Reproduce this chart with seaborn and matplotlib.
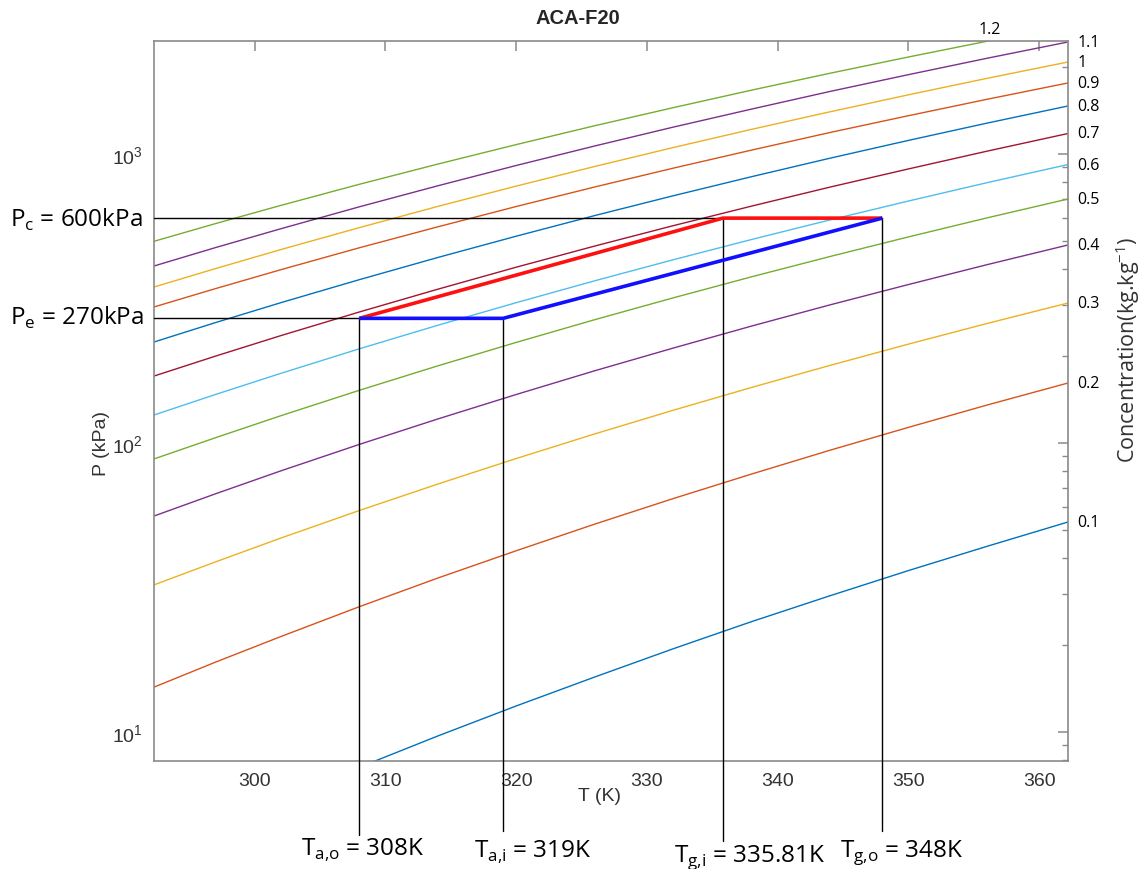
import numpy as np
import pandas as pd
import matplotlib
matplotlib.use("Agg")
import matplotlib.pyplot as plt
import seaborn as sns
from matplotlib.ticker import LogLocator, NullFormatter, FixedLocator

# Isostere data: equilibrium pressure (kPa) at each temperature (K) for every
# refrigerant concentration (kg/kg) of the ACA-F20 pair.
temps = [292.3, 297.0, 302.0, 308.0, 314.0, 320.0, 326.0, 332.0, 338.0, 344.0, 350.0, 356.0, 362.2]
concentrations = [0.1, 0.2, 0.3, 0.4, 0.5, 0.6, 0.7, 0.8, 0.9, 1.0, 1.1, 1.2]
p_c010 = [3.74, 4.65, 5.82, 7.55, 9.69, 12.31, 15.5, 19.41, 24.1, 29.62, 36.2, 43.9, 53.3]
p_c020 = [14.3, 17.45, 21.4, 27.14, 34.1, 42.39, 52.4, 64.22, 78.1, 94.43, 113.3, 135.3, 161.3]
p_c030 = [32.3, 38.78, 46.9, 58.4, 72.1, 88.39, 107.5, 129.8, 155.7, 185.6, 219.9, 259.1, 305.1]
p_c040 = [55.9, 66.72, 80.1, 98.89, 121.1, 147.2, 177.8, 213.0, 253.9, 300.6, 353.5, 414.0, 484.4]
p_c050 = [88.1, 104.3, 124.3, 152.2, 184.9, 222.9, 267.1, 317.8, 375.9, 441.9, 516.6, 601.0, 698.7]
p_c060 = [125.0, 147.2, 174.2, 211.8, 255.5, 305.9, 364.1, 430.5, 506.0, 591.5, 687.6, 795.6, 919.6]
p_c070 = [170.5, 199.8, 235.3, 284.0, 340.5, 405.8, 480.2, 564.8, 660.2, 768.2, 887.9, 1022.6, 1177.4]
p_c080 = [223.6, 261.0, 305.9, 367.4, 438.4, 519.5, 612.2, 716.8, 834.6, 967.1, 1114.5, 1278.6, 1466.0]
p_c090 = [295.6, 342.1, 397.8, 473.7, 559.7, 658.1, 768.8, 893.1, 1031.5, 1186.8, 1356.9, 1546.0, 1761.0]
p_c100 = [346.5, 401.3, 467.0, 556.2, 658.6, 774.3, 905.3, 1052.5, 1216.9, 1399.6, 1602.4, 1826.9, 2081.0]
p_c110 = [409.7, 474.4, 551.3, 656.5, 776.1, 912.5, 1065.8, 1238.4, 1430.1, 1646.0, 1881.6, 2143.7, 2441.0]
p_c120 = [498.8, 574.3, 663.9, 785.5, 922.7, 1077.7, 1252.4, 1446.1, 1663.2, 1902.7, 2166.0, 2454.7, 2781.0]
conc_labels = ["0.1", "0.2", "0.3", "0.4", "0.5", "0.6", "0.7", "0.8", "0.9", "1", "1.1", "1.2"]

# Cycle state points
t_ao, t_ai, t_gi, t_go = 308.0, 319.0, 335.81, 348.0
p_e, p_c = 270.0, 600.0

series = [p_c010, p_c020, p_c030, p_c040, p_c050, p_c060,
          p_c070, p_c080, p_c090, p_c100, p_c110, p_c120]

matlab_order = ["#0072BD", "#D95319", "#EDB120", "#7E2F8E", "#77AC30", "#4DBEEE", "#A2142F"]
palette = {c: matlab_order[i % 7] for i, c in enumerate(concentrations)}

rows = []
for c, pv in zip(concentrations, series):
    for t, p in zip(temps, pv):
        rows.append({"T": t, "P": p, "c": c})
df = pd.DataFrame(rows)

sns.set_theme(style="white")
plt.rcParams["font.family"] = ["Liberation Sans", "DejaVu Sans"]
plt.rcParams["mathtext.fontset"] = "custom"
plt.rcParams["mathtext.rm"] = "Liberation Sans"

W, H = 1146, 870
fig = plt.figure(figsize=(W / 100, H / 100), dpi=100)
fig.patch.set_facecolor("white")
ax_left, ax_right, ax_top, ax_bottom = 154, 1068, 41.7, 762
ax = fig.add_axes([ax_left / W, 1 - ax_bottom / H, (ax_right - ax_left) / W, (ax_bottom - ax_top) / H])

sns.lineplot(data=df, x="T", y="P", hue="c", palette=palette, legend=False,
             estimator=None, sort=False, linewidth=1.0, ax=ax)

ax.set_yscale("log")
xmin, xmax = 292.3, 362.2
ymin, ymax = 7.94, 2466.0
ax.set_xlim(xmin, xmax)
ax.set_ylim(ymin, ymax)
ax.set_xlabel("")
ax.set_ylabel("")

spine_col = "#8a8a8a"
for s in ax.spines.values():
    s.set_color(spine_col)
    s.set_linewidth(1.2)
ax.xaxis.set_major_locator(FixedLocator([300, 310, 320, 330, 340, 350, 360]))
ax.yaxis.set_major_locator(LogLocator(base=10))
ax.yaxis.set_minor_locator(LogLocator(base=10, subs=np.arange(2, 10)))
ax.yaxis.set_minor_formatter(NullFormatter())
ax.tick_params(which="both", direction="in", top=True, right=True,
               color=spine_col, labelcolor="#333333", labelsize=14)
ax.tick_params(which="major", length=7, width=1.1, pad=8)
ax.tick_params(which="minor", length=4, width=1.0)

# Pressure lines and temperature drop lines
def px_to_logp(py):
    frac = (ax_bottom - py) / (ax_bottom - ax_top)
    return 10 ** (np.log10(ymin) + frac * (np.log10(ymax) - np.log10(ymin)))

ax.plot([xmin, t_go], [p_c, p_c], color="black", lw=1.0, zorder=3)
ax.plot([xmin, t_ao], [p_e, p_e], color="black", lw=1.0, zorder=3)
for t, p, yb in [(t_ao, p_e, 836), (t_ai, p_e, 832), (t_gi, p_c, 842), (t_go, p_c, 832)]:
    ax.plot([t, t], [p, px_to_logp(yb)], color="black", lw=1.0, clip_on=False, zorder=3)

# Cycle path
ax.plot([t_ao, t_gi, t_go], [p_e, p_c, p_c], color="#ff1010", lw=2.6, zorder=4,
        solid_capstyle="butt")
ax.plot([t_ao, t_ai, t_go], [p_e, p_e, p_c], color="#1010ff", lw=2.6, zorder=4,
        solid_capstyle="butt")

# Concentration labels at the right end of each isostere
lab_font = ["Open Sans", "DejaVu Sans"]
for c, pv, lab in zip(concentrations, series, conc_labels):
    if pv[-1] <= ymax:
        ax.annotate(lab, xy=(xmax, pv[-1]), xytext=(7, 0), textcoords="offset points",
                    ha="left", va="center", fontsize=11.5, color="black",
                    family=lab_font, annotation_clip=False)
    else:
        lt = np.log10(pv)
        tx = np.interp(np.log10(ymax), lt, temps)
        ax.annotate(lab, xy=(tx, ymax), xytext=(0, 3), textcoords="offset points",
                    ha="center", va="bottom", fontsize=11.5, color="black",
                    family=lab_font, annotation_clip=False)

def ftext(x, y, s, **kw):
    fig.text(x / W, 1 - y / H, s, **kw)

ftext(578, 18, "ACA-F20", ha="center", va="center", fontsize=14.5, fontweight="bold", color="#262626")
ftext(600, 797, "T (K)", ha="center", va="center", fontsize=14, color="#333333")
ftext(102, 443, "P (kPa)", ha="center", va="center", fontsize=14, color="#333333", rotation=90)
ftext(1128, 350, r"Concentration(kg.kg$^{\mathregular{-1}}$)", ha="center", va="center",
      fontsize=15.5, color="#333333", rotation=90, family=lab_font)

ann = dict(fontsize=17.5, color="black", family=lab_font)
ftext(10, 227, r"P$_{\mathregular{c}}$ = 600kPa", ha="left", va="baseline", **ann)
ftext(10, 325, r"P$_{\mathregular{e}}$ = 270kPa", ha="left", va="baseline", **ann)
ftext(363, 856, r"T$_{\mathregular{a{,}o}}$ = 308K", ha="center", va="baseline", **ann)
ftext(533, 858, r"T$_{\mathregular{a{,}i}}$ = 319K", ha="center", va="baseline", **ann)
ftext(750, 862, r"T$_{\mathregular{g{,}i}}$ = 335.81K", ha="center", va="baseline", **ann)
ftext(902, 857, r"T$_{\mathregular{g{,}o}}$ = 348K", ha="center", va="baseline", **ann)

fig.savefig("out.png", dpi=100, facecolor="white")
